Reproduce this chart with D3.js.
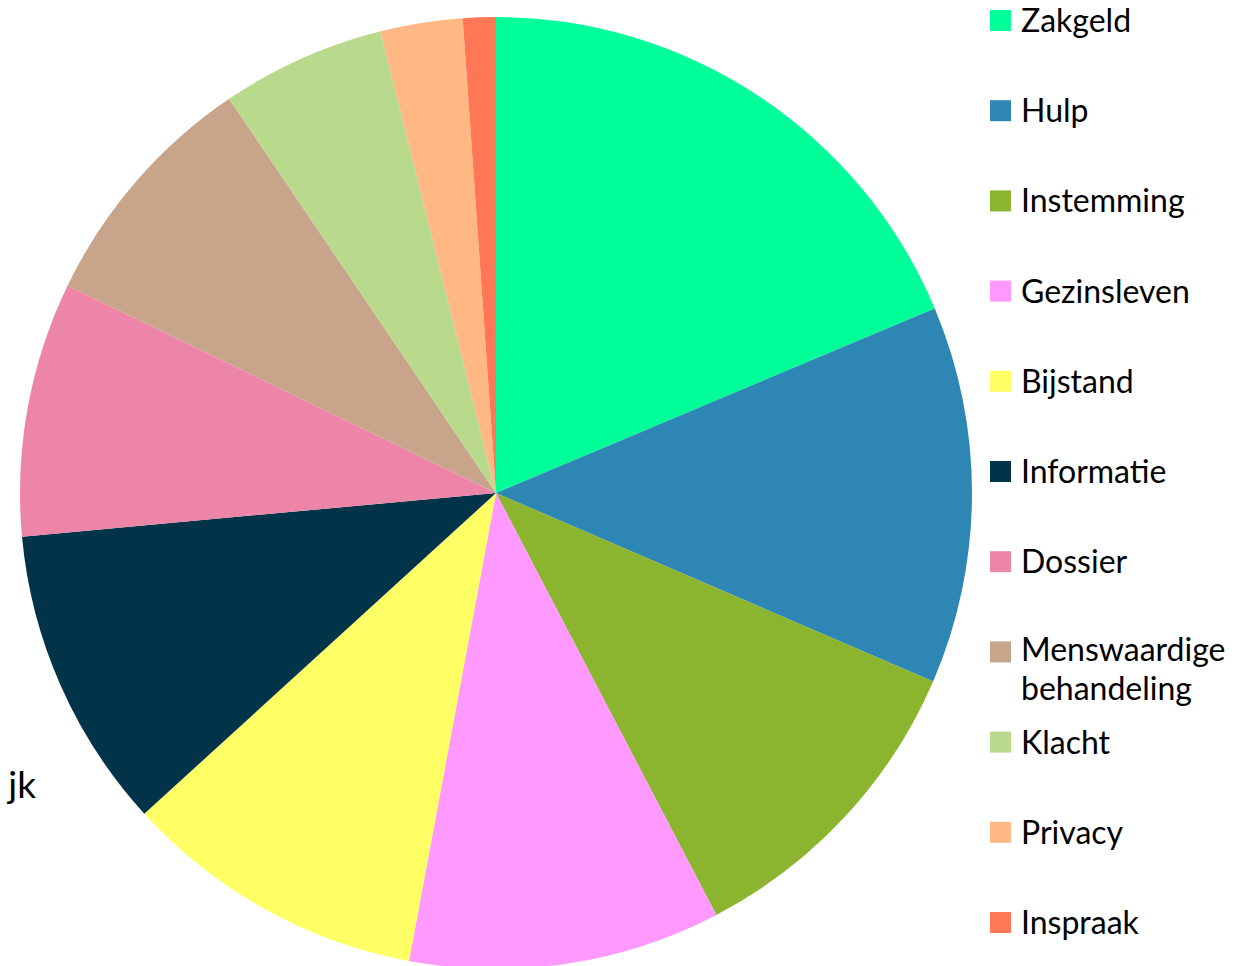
<!DOCTYPE html>
<html>
<head>
<meta charset="utf-8">
<script src="https://cdn.jsdelivr.net/npm/d3@7"></script>
<style>
  body { margin: 0; background: #fff; }
  svg { display: block; }
</style>
</head>
<body>
<div id="chart"></div>
<script>
// data
const categories = ["Zakgeld", "Hulp", "Instemming", "Gezinsleven", "Bijstand", "Informatie",
  "Dossier", "Menswaardige behandeling", "Klacht", "Privacy", "Inspraak"];
const values = [67, 46, 39, 38, 37, 37, 31, 30, 20, 10, 4];
const colors = ["#00ff99", "#2e86b4", "#8bb52e", "#ff99ff", "#ffff66", "#023449",
  "#ec85a8", "#c7a48a", "#b9da8c", "#ffb784", "#ff7755"];

const width = 1250, height = 966;
const cx = 496, cy = 493, radius = 476;
const font = "Lato, 'Open Sans', sans-serif";

const svg = d3.select("#chart").append("svg")
  .attr("width", width)
  .attr("height", height);

const color = d3.scaleOrdinal().domain(categories).range(colors);

const pie = d3.pie().sort(null).value(d => d.value);
const arc = d3.arc().innerRadius(0).outerRadius(radius);

const data = categories.map((c, i) => ({ name: c, value: values[i] }));

svg.append("g")
  .attr("transform", `translate(${cx},${cy})`)
  .selectAll("path")
  .data(pie(data))
  .enter()
  .append("path")
  .attr("d", arc)
  .attr("fill", d => color(d.data.name));

// stukje label dat links buiten beeld valt
svg.append("text")
  .attr("x", 36)
  .attr("y", 798)
  .attr("text-anchor", "end")
  .style("font-family", font)
  .style("font-size", "37px")
  .text("jk");

// legenda
const legendY = d3.scalePoint().domain(categories).range([20, 922]);

const legend = svg.selectAll(".legend")
  .data(categories)
  .enter()
  .append("g")
  .attr("class", "legend")
  .attr("transform", d => `translate(990,${legendY(d)})`);

legend.append("rect")
  .attr("y", -10)
  .attr("width", 21)
  .attr("height", 21)
  .attr("fill", d => color(d));

// lange naam over twee regels, als aparte teksten
legend.each(function(d) {
  const g = d3.select(this);
  const words = d.split(" ");
  const y0 = words.length > 1 ? 10 : 12;
  words.forEach((w, i) => {
    g.append("text")
      .attr("x", 31)
      .attr("y", y0 + i * 39)
      .style("font-family", font)
      .style("font-size", "32px")
      .style("fill", "#000")
      .text(w);
  });
});
</script>
</body>
</html>
